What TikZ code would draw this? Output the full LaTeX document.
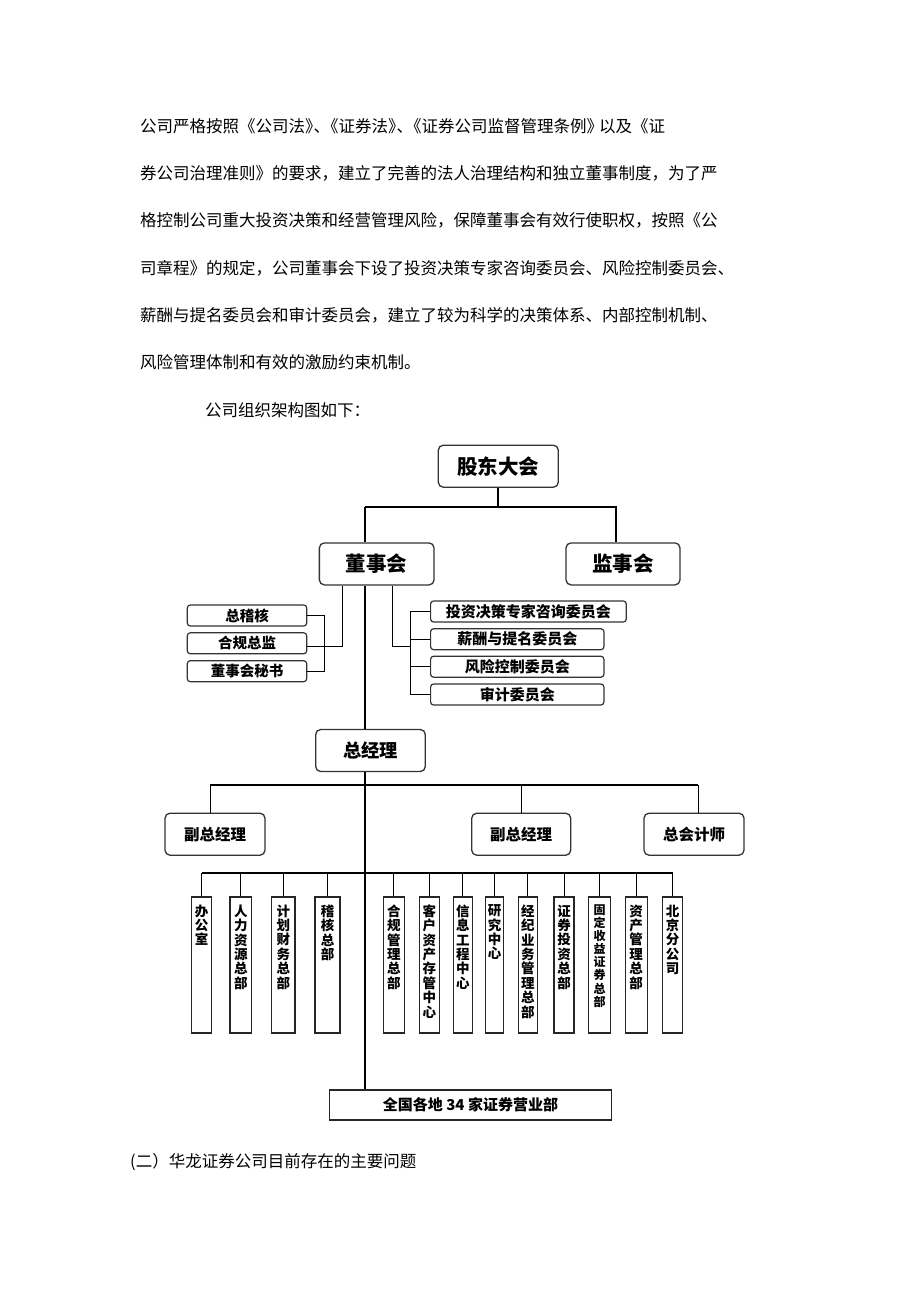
\documentclass[tikz,border=0pt]{standalone}
\usepackage{fontspec}
\newfontfamily\cjk{Noto Sans CJK SC}
\usetikzlibrary{positioning}

\begin{document}
\begin{tikzpicture}[
        x=1pt, y=-1pt,
        % page text
        para/.style={anchor=west, inner sep=0pt, font=\cjk\fontsize{16.5}{18}\selectfont},
        % boxes of the chart
        bigbox/.style={draw=black!80, line width=1.3pt, fill=white, rounded corners=5pt,
            minimum height=42pt, inner sep=0pt, font=\cjk\bfseries\fontsize{20.5}{22}\selectfont},
        midbox/.style={bigbox, font=\cjk\bfseries\fontsize{15.5}{17}\selectfont},
        smallbox/.style={draw=black!80, line width=1.2pt, fill=white, rounded corners=3pt,
            minimum height=21pt, inner sep=0pt, font=\cjk\bfseries\fontsize{14.5}{16}\selectfont},
        dept/.style={draw=black!85, line width=1.1pt, minimum height=136pt, inner sep=0pt},
        vtext/.style={anchor=north, align=center, inner sep=0pt},
        trunk/.style={line width=2.2pt},
        branch/.style={line width=1pt}
    ]
    \useasboundingbox (0,0) rectangle (920,1302);

    \node[para] (p1) at (140,126) {公司严格按照《公司法》\kern-8pt、\kern-8pt《证券法》\kern-8pt、\kern-8pt《证券公司监督管理条例》\kern-4pt以及《证};
    \node[para] (p2) at (140,173) {券公司治理准则》的要求，建立了完善的法人治理结构和独立董事制度，为了严};
    \node[para] (p3) at (140,220) {格控制公司重大投资决策和经营管理风险，保障董事会有效行使职权，按照《公};
    \node[para] (p4) at (140,268) {司章程》的规定，公司董事会下设了投资决策专家咨询委员会、风险控制委员会、};
    \node[para] (p5) at (140,315) {薪酬与提名委员会和审计委员会，建立了较为科学的决策体系、内部控制机制、};
    \node[para] (p6) at (140,362) {风险管理体制和有效的激励约束机制。};
    \node[para] (p7) at (205,410) {公司组织架构图如下：};

    % top of the chart
    \node[bigbox, minimum width=120pt] (gd) at (498.3,466.2) {股东大会};
    \node[bigbox, minimum width=114.7pt] (dsh) at (376.7,563.9) {董事会};
    \node[bigbox, minimum width=114pt] (jsh) at (623,563.9) {监事会};

    \node[smallbox, minimum width=119.4pt] (zj) at (247,615.5) {总稽核};
    \node[smallbox, minimum width=119.4pt] (hg) at (247,643.3) {合规总监};
    \node[smallbox, minimum width=119.4pt] (ms) at (247,671.2) {董事会秘书};

    \node[smallbox, anchor=west, minimum width=195.7pt, font=\cjk\bfseries\fontsize{15}{16}\selectfont] (tz) at (430,611.5) {投资决策专家咨询委员会};
    \node[smallbox, anchor=west, minimum width=173.3pt, font=\cjk\bfseries\fontsize{15}{16}\selectfont] (xc) at (430,639.2) {薪酬与提名委员会};
    \node[smallbox, anchor=west, minimum width=173.3pt, font=\cjk\bfseries\fontsize{15}{16}\selectfont] (fx) at (430,666.7) {风险控制委员会};
    \node[smallbox, anchor=west, minimum width=173.3pt, font=\cjk\bfseries\fontsize{15}{16}\selectfont] (sj) at (430,694.5) {审计委员会};

    % managers
    \node[bigbox, minimum width=109.6pt, font=\cjk\bfseries\fontsize{18.3}{20}\selectfont] (zjl) at (370.5,750.5) {总经理};
    \node[midbox, minimum width=100pt] (fzl1) at (215,834.2) {副总经理};
    \node[midbox, minimum width=99pt] (fzl2) at (521.2,834.2) {副总经理};
    \node[midbox, minimum width=100pt] (zkj) at (694,834.2) {总会计师};

    % departments
    \foreach \cx/\w/\fs/\bs/\t [count=\i] in {
            201.7/20/13.5/14.4/办\\公\\室,
            240.8/21.7/13.5/14.4/人\\力\\资\\源\\总\\部,
            283.3/23.3/13.5/14.4/计\\划\\财\\务\\总\\部,
            327.5/25/13.5/14.4/稽\\核\\总\\部,
            393.8/21/13.5/14.4/合\\规\\管\\理\\总\\部,
            429.3/20/13.5/14.4/客\\户\\资\\产\\存\\管\\中\\心,
            462.8/19/13.5/14.4/信\\息\\工\\程\\中\\心,
            494.5/17.6/13.5/14.4/研\\究\\中\\心,
            527.8/19/13.5/14.4/经\\纪\\业\\务\\管\\理\\总\\部,
            564/20/13.5/14.4/证\\券\\投\\资\\总\\部,
            599.5/22.4/12/13.1/固\\定\\收\\益\\证\\券\\总\\部,
            636.2/22.3/13.5/14.4/资\\产\\管\\理\\总\\部,
            672.5/20.4/13.5/14.4/北\\京\\分\\公\\司} {
        \node[dept, minimum width=\w pt] (d\i) at (\cx,965) {};
        \node[vtext, font=\cjk\bfseries\fontsize{\fs}{\bs}\selectfont] (t\i) at ([yshift=-8pt]d\i.north) {\t};
    }

    \node[draw=black!85, line width=1.2pt, minimum width=282.4pt, minimum height=30pt,
        inner sep=0pt, font=\cjk\bfseries\fontsize{15}{16}\selectfont] (qg) at (470.5,1105) {全国各地 34 家证券营业部};

    \node[para] (q2) at (130,1162) {(二）华龙证券公司目前存在的主要问题};

    % connectors
    \coordinate (spine) at (365,507.3);
    \coordinate (gmbar) at (365,785);
    \coordinate (dbar) at (365,873.3);
    \coordinate (lstem) at (342.3,646);
    \coordinate (rstem) at (392.7,646);
    \coordinate (lbar) at (324.3,646);
    \coordinate (rbar) at (410.7,646);

    \draw[trunk] (gd.south) -- (gd.south |- spine);
    \draw[trunk] (spine) -| ([xshift=-7pt]jsh.north);
    \draw[trunk] (spine) -- (spine |- dsh.north);
    \draw[trunk] (spine |- dsh.south) -- (spine |- zjl.north);
    \draw[trunk] (spine |- zjl.south) -- (spine |- qg.north);

    \draw[branch] (lstem |- dsh.south) -- (lstem) -- (lstem -| hg.east);
    \draw[branch] (zj.east) -| (lbar) |- (ms.east);
    \draw[branch] (rstem |- dsh.south) -- (rstem) -- (rbar);
    \draw[branch] (tz.west) -| (rbar) |- (sj.west);
    \draw[branch] (xc.west) -- (xc.west -| rbar);
    \draw[branch] (fx.west) -- (fx.west -| rbar);

    \draw[trunk] ([xshift=-5pt]fzl1.north |- gmbar) -- ([xshift=4.3pt]zkj.north |- gmbar);
    \foreach \n/\dx in {fzl1/-5, fzl2/0, zkj/4.3}
        \draw[branch] ([xshift=\dx pt]\n.north) -- ([xshift=\dx pt]\n.north |- gmbar);

    \draw[trunk] (d1.north |- dbar) -- (d13.north |- dbar);
    \foreach \i in {1,...,13}
        \draw[branch] (d\i.north) -- (d\i.north |- dbar);
\end{tikzpicture}
\end{document}
